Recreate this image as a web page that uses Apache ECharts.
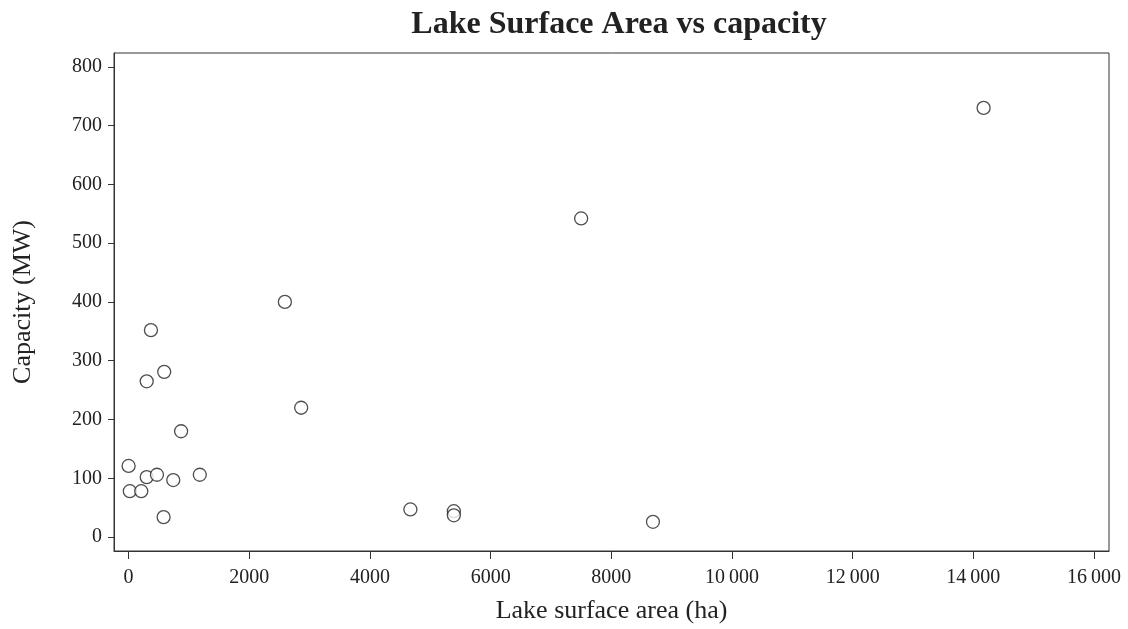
<!DOCTYPE html>
<html lang="en">
<head>
    <meta charset="UTF-8">
    <title>Lake Surface Area vs capacity</title>
    <script src="https://cdn.jsdelivr.net/npm/echarts@6/dist/echarts.min.js"></script>
    <style>
        html, body { margin: 0; padding: 0; background: #fff; }
    </style>
</head>
<body>
    <div id="chart" style="width: 1128px; height: 629px;"></div>
    <script>
        // lake surface area (ha) and capacity (MW)
        var lakeArea = [0, 20, 210, 300, 470, 740, 1180, 580, 870, 300, 590, 370, 2860, 2590,
            4670, 5390, 5390, 7500, 8690, 14170];
        var capacity = [121, 78, 78, 102, 106, 97, 106, 34, 180, 265, 281, 352, 220, 400,
            47, 44, 37, 542, 26, 730];
        var xTicks = [0, 2000, 4000, 6000, 8000, 10000, 12000, 14000, 16000];
        var yTicks = [0, 100, 200, 300, 400, 500, 600, 700, 800];

        var points = lakeArea.map(function (a, i) { return [a, capacity[i]]; });
        var font = "'Liberation Serif', 'DejaVu Serif', serif";

        // 10000 -> "10 000" (thin space)
        function fmtX(v) {
            var s = String(v);
            if (v >= 10000) s = s.slice(0, s.length - 3) + "\u2009" + s.slice(-3);
            return s;
        }

        var chart = echarts.init(document.getElementById("chart"));
        chart.setOption({
            animation: false,
            backgroundColor: "#fff",
            title: {
                text: "Lake Surface Area vs capacity",
                left: 614,
                textAlign: "center",
                top: 4,
                textStyle: { fontFamily: font, fontSize: 32, fontWeight: "bold", color: "#222" }
            },
            grid: {
                left: 114, right: 19, top: 53, bottom: 75.5,
                show: true, borderColor: "#333", borderWidth: 1
            },
            xAxis: {
                type: "value",
                min: -242, max: 16248,
                name: "Lake surface area (ha)",
                nameLocation: "middle",
                nameGap: 47,
                nameTextStyle: { fontFamily: font, fontSize: 26, color: "#222" },
                splitLine: { show: false },
                axisLine: { onZero: false, lineStyle: { color: "#333", width: 1 } },
                axisTick: { customValues: xTicks, length: 8, lineStyle: { color: "#333" } },
                axisLabel: {
                    customValues: xTicks, formatter: fmtX, margin: 17,
                    fontFamily: font, fontSize: 20, color: "#222"
                }
            },
            yAxis: {
                type: "value",
                min: -23.7, max: 823.4,
                name: "Capacity (MW)",
                nameLocation: "middle",
                nameGap: 78,
                nameTextStyle: { fontFamily: font, fontSize: 26, color: "#222" },
                splitLine: { show: false },
                axisLine: { onZero: false, lineStyle: { color: "#333", width: 1 } },
                axisTick: { customValues: yTicks, length: 6, lineStyle: { color: "#333" } },
                axisLabel: {
                    customValues: yTicks, margin: 12,
                    fontFamily: font, fontSize: 20, color: "#222"
                }
            },
            series: [{
                type: "scatter",
                data: points,
                symbol: "circle",
                symbolSize: 13,
                itemStyle: { color: "#fff", borderColor: "#222", borderWidth: 1.3 }
            }]
        });
    </script>
</body>
</html>
